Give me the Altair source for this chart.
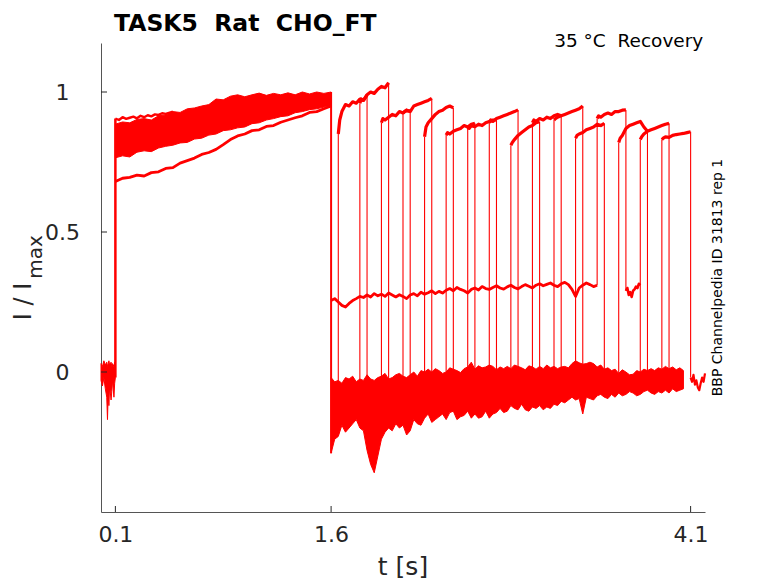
import altair as alt
import pandas as pd

RED = "#ff0000"
FONT = "DejaVu Sans"
AX = "#262626"
NB = "\u00a0"


def grid(start, stop, step):
    n = int(round((stop - start) / step)) + 1
    return [round(start + i * step, 4) for i in range(n)]


# ---------------- data ----------------
# baseline before the first pulse (noise envelope)
PRE_T = [0.0, 0.01, 0.02, 0.03, 0.04, 0.045, 0.05, 0.055, 0.06, 0.07, 0.075, 0.08, 0.09, 0.095, 0.1]
PRE_HI = [0.03, 0.02, 0.04, 0.025, 0.035, 0.02, 0.03, 0.04, 0.025, 0.035, 0.02, 0.03, 0.02, 0.035, 0.03]
PRE_LO = [-0.03, -0.05, -0.02, -0.06, -0.09, -0.17, -0.08, -0.12, -0.05, -0.10, -0.07, -0.03, -0.09, -0.04, -0.02]

# first pulse bundle (0.1 .. 1.6 s, step 0.05)
P1_T = grid(0.10, 1.60, 0.05)
P1_HI = [0.885, 0.893, 0.89, 0.902, 0.905, 0.9, 0.915, 0.918, 0.93, 0.927,
         0.94, 0.943, 0.95, 0.955, 0.975, 0.972, 0.985, 0.99, 0.983, 0.99,
         0.996, 0.988, 0.995, 0.99, 0.997, 0.99, 1.0, 0.993, 1.0, 0.995, 1.0]
P1_LO = [0.765, 0.772, 0.768, 0.785, 0.79, 0.787, 0.80, 0.806, 0.81, 0.818,
         0.82, 0.832, 0.835, 0.846, 0.85, 0.862, 0.865, 0.872, 0.875, 0.887,
         0.89, 0.9, 0.905, 0.912, 0.915, 0.926, 0.93, 0.937, 0.94, 0.946, 0.95]
LOWER_TRACE = [0.68, 0.692, 0.695, 0.703, 0.70, 0.712, 0.715, 0.727, 0.73, 0.746,
               0.755, 0.764, 0.777, 0.784, 0.795, 0.812, 0.83, 0.843, 0.85, 0.862,
               0.865, 0.877, 0.88, 0.892, 0.9, 0.908, 0.915, 0.927, 0.93, 0.94, 0.95]
TOP_T = [0.1, 0.125, 0.15, 0.175, 0.2, 0.225, 0.25, 0.275, 0.3, 0.325, 0.35, 0.375, 0.4, 0.425, 0.45, 0.5]
TOP_TRACE = [0.905, 0.9, 0.91, 0.904, 0.908, 0.912, 0.906, 0.915, 0.91, 0.917,
             0.913, 0.92, 0.918, 0.924, 0.922, 0.93]

# inactivated baseline after 1.6 s (noise envelope, step 0.025)
POST_T = grid(1.600, 4.050, 0.025)
POST_LO = [-0.29, -0.24, -0.23, -0.19, -0.215, -0.2, -0.185, -0.17, -0.2, -0.21,
           -0.28, -0.33, -0.36, -0.30, -0.24, -0.215, -0.2, -0.21, -0.185, -0.2,
           -0.19, -0.225, -0.21, -0.17, -0.185, -0.19, -0.165, -0.15, -0.18, -0.17,
           -0.16, -0.15, -0.17, -0.145, -0.14, -0.17, -0.16, -0.155, -0.14, -0.165,
           -0.15, -0.165, -0.16, -0.14, -0.165, -0.15, -0.145, -0.13, -0.145, -0.14,
           -0.12, -0.13, -0.135, -0.115, -0.135, -0.14, -0.125, -0.13, -0.12, -0.135,
           -0.125, -0.13, -0.115, -0.12, -0.105, -0.11, -0.1, -0.09, -0.1, -0.095,
           -0.15, -0.09, -0.095, -0.1, -0.085, -0.08, -0.09, -0.095, -0.08, -0.09,
           -0.075, -0.085, -0.08, -0.07, -0.075, -0.085, -0.08, -0.07, -0.065, -0.075,
           -0.08, -0.07, -0.075, -0.065, -0.075, -0.06, -0.07, -0.065, -0.06]
POST_HI = [-0.02, -0.035, -0.03, -0.04, -0.02, -0.025, -0.015, -0.035, -0.025, -0.03,
           -0.01, -0.025, -0.03, -0.02, -0.015, -0.005, -0.025, -0.02, -0.01, -0.005,
           -0.015, -0.02, -0.01, 0.0, -0.015, 0.005, 0.0, 0.01, 0.0, 0.012,
           0.005, -0.005, 0.0, 0.015, 0.01, 0.005, -0.002, 0.012, 0.018, 0.035,
           0.01, 0.022, 0.015, 0.018, 0.025, 0.02, 0.008, 0.018, 0.012, 0.02,
           0.012, 0.025, 0.02, 0.015, 0.008, 0.022, 0.018, 0.01, 0.02, 0.012,
           0.025, 0.015, 0.02, 0.012, 0.018, 0.02, 0.015, 0.03, 0.04, 0.033,
           0.028, 0.03, 0.035, 0.03, 0.018, 0.025, 0.01, 0.015, 0.005, 0.01,
           -0.005, 0.008, 0.0, -0.01, -0.008, 0.005, 0.0, 0.01, 0.005, 0.012,
           0.005, 0.015, 0.01, 0.02, 0.012, 0.018, 0.008, 0.015, 0.005]

# sweep with the elevated baseline (recovers at 3.45 s)
S12_T = grid(1.600, 3.450, 0.025)
S12_BASE = [0.255, 0.262, 0.25, 0.238, 0.232, 0.245, 0.255, 0.262, 0.27, 0.266,
            0.275, 0.268, 0.28, 0.272, 0.278, 0.27, 0.282, 0.275, 0.268, 0.276,
            0.27, 0.262, 0.275, 0.28, 0.272, 0.285, 0.278, 0.283, 0.29, 0.28,
            0.288, 0.282, 0.292, 0.298, 0.29, 0.302, 0.295, 0.29, 0.282, 0.295,
            0.3, 0.293, 0.305, 0.298, 0.295, 0.302, 0.308, 0.3, 0.296, 0.304,
            0.31, 0.302, 0.297, 0.305, 0.312, 0.306, 0.3, 0.31, 0.315, 0.308,
            0.313, 0.318, 0.31, 0.305, 0.315, 0.32, 0.312, 0.295, 0.27, 0.3,
            0.31, 0.318, 0.312, 0.305, 0.31]
S12_TAIL_T = grid(3.65, 3.75, 0.01)
S12_TAIL = [0.29, 0.3, 0.275, 0.285, 0.268, 0.29, 0.295, 0.305, 0.3, 0.315, 0.31]
S15_TAIL_T = grid(4.10, 4.20, 0.01)
S15_TAIL = [-0.02, -0.035, -0.01, -0.045, -0.03, -0.055, -0.065, -0.04, -0.02, -0.035, -0.005]

# recovery pulses
SWEEP_START = [1.65, 1.80, 1.95, 2.10, 2.25, 2.40, 2.55, 2.70, 2.85, 3.00, 3.15, 3.30, 3.45, 3.60, 3.75, 3.90]
SWEEP_END = [1.85, 2.00, 2.15, 2.30, 2.45, 2.60, 2.75, 2.90, 3.05, 3.20, 3.35, 3.50, 3.65, 3.80, 3.95, 4.10]
PLATEAU_OFFSETS = [0, 0.01, 0.025, 0.05, 0.075, 0.1, 0.125, 0.15, 0.175, 0.2]
PLATEAU = [
    [0.85, 0.90, 0.93, 0.955, 0.95, 0.965, 0.96, 0.975, 0.97, 0.99],
    [0.96, 0.975, 0.97, 0.99, 1.0, 0.995, 1.01, 1.02, 1.015, 1.033],
    [0.89, 0.905, 0.9, 0.91, 0.92, 0.915, 0.93, 0.925, 0.935, 0.93],
    [0.925, 0.93, 0.935, 0.93, 0.95, 0.955, 0.96, 0.965, 0.97, 0.977],
    [0.84, 0.875, 0.89, 0.905, 0.92, 0.93, 0.935, 0.945, 0.95, 0.943],
    [0.846, 0.855, 0.85, 0.86, 0.865, 0.87, 0.88, 0.875, 0.885, 0.888],
    [0.875, 0.87, 0.88, 0.876, 0.885, 0.88, 0.89, 0.895, 0.9, 0.9],
    [0.89, 0.9, 0.895, 0.905, 0.91, 0.915, 0.92, 0.925, 0.93, 0.936],
    [0.81, 0.82, 0.83, 0.845, 0.855, 0.865, 0.875, 0.88, 0.89, 0.894],
    [0.89, 0.9, 0.895, 0.905, 0.9, 0.91, 0.905, 0.915, 0.92, 0.915],
    [0.9, 0.905, 0.91, 0.915, 0.92, 0.925, 0.93, 0.935, 0.94, 0.95],
    [0.835, 0.845, 0.85, 0.855, 0.865, 0.87, 0.875, 0.885, 0.88, 0.888],
    [0.905, 0.915, 0.91, 0.92, 0.925, 0.92, 0.93, 0.93, 0.935, 0.936],
    [0.82, 0.835, 0.845, 0.87, 0.88, 0.885, 0.89, 0.895, 0.875, 0.86],
    [0.83, 0.84, 0.85, 0.86, 0.865, 0.87, 0.875, 0.88, 0.885, 0.888],
    [0.83, 0.835, 0.84, 0.838, 0.845, 0.848, 0.85, 0.852, 0.855, 0.858],
]
LOW_BEFORE = [-0.12, -0.1, -0.11, -0.09, -0.1, -0.08, -0.09, -0.07, -0.08, -0.06, -0.07, -0.05, 0.31, -0.04, -0.05, -0.04]
LOW_AFTER = [-0.1, -0.09, -0.1, -0.08, -0.08, -0.07, -0.08, -0.06, -0.07, -0.05, -0.06, -0.04, 0.29, -0.03, -0.04, -0.02]

X_TICKS = [0.1, 1.6, 4.1]
Y_TICKS = [0, 0.5, 1]

# ---------------- tables ----------------
bands = pd.concat([
    pd.DataFrame({"t": PRE_T, "y": PRE_LO, "y2": PRE_HI, "id": "pre"}),
    pd.DataFrame({"t": P1_T, "y": P1_LO, "y2": P1_HI, "id": "p1"}),
    pd.DataFrame({"t": POST_T, "y": POST_LO, "y2": POST_HI, "id": "post"}),
], ignore_index=True)

rows = []


def add_line(name, ts, ys, w):
    for i, (t, y) in enumerate(zip(ts, ys)):
        rows.append({"t": t, "y": y, "id": name, "o": i, "w": w})


add_line("top", TOP_T, TOP_TRACE, 2.4)
add_line("lower", P1_T, LOWER_TRACE, 2.8)
add_line("s12base", S12_T, S12_BASE, 2.8)
add_line("s12tail", S12_TAIL_T, S12_TAIL, 2.6)
add_line("s15tail", S15_TAIL_T, S15_TAIL, 2.2)
for k, (s, vals) in enumerate(zip(SWEEP_START, PLATEAU)):
    add_line(f"plat{k}", [round(s + o, 4) for o in PLATEAU_OFFSETS], vals, 3.2)
lines = pd.DataFrame(rows)

rule_rows = [
    {"t": 0.1, "y": -0.02, "y2": 0.905, "w": 2.5},
    {"t": 1.6, "y": -0.29, "y2": 1.0, "w": 2.0},
]
for k in range(len(SWEEP_START)):
    rule_rows.append({"t": SWEEP_START[k], "y": LOW_BEFORE[k], "y2": PLATEAU[k][0], "w": 1.1})
    rule_rows.append({"t": SWEEP_END[k], "y": LOW_AFTER[k], "y2": PLATEAU[k][-1], "w": 1.1})
rules = pd.DataFrame(rule_rows)

# ---------------- encodings ----------------
X = alt.X("t:Q",
          scale=alt.Scale(domain=[0, 4.2], nice=False, zero=False),
          axis=alt.Axis(values=X_TICKS, format=".1f", title=None, ticks=False, tickSize=0,
                        labelPadding=12, labelFontSize=22, labelColor=AX, labelFont=FONT,
                        domainColor="#555555", domainWidth=1, grid=False, labelFlush=False))
Y = alt.Y("y:Q",
          scale=alt.Scale(domain=[-0.5, 1.175], nice=False, zero=False),
          axis=alt.Axis(values=Y_TICKS, format="~g", title=None, ticks=False, tickSize=0,
                        labelPadding=39, labelAlign="center", labelBaseline="middle",
                        labelFontSize=22, labelColor=AX, labelFont=FONT,
                        domainColor="#555555", domainWidth=1, grid=False))

band_layer = alt.Chart(bands).mark_area(color=RED, stroke=RED, strokeWidth=1, opacity=1).encode(
    x=X, y=Y, y2="y2:Q", detail="id:N")

line_layer = alt.Chart(lines).mark_line(color=RED, strokeJoin="round").encode(
    x=X, y=Y, detail="id:N", order="o:Q",
    strokeWidth=alt.StrokeWidth("w:Q", scale=None))

rule_layer = alt.Chart(rules).mark_rule(color=RED).encode(
    x=X, y=Y, y2="y2:Q", strokeWidth=alt.StrokeWidth("w:Q", scale=None))

xt = alt.Chart(pd.DataFrame({"t": X_TICKS})).mark_rule(color=AX, strokeWidth=1).encode(
    x=X, y=alt.value(469), y2=alt.value(463))
yt = alt.Chart(pd.DataFrame({"y": Y_TICKS})).mark_rule(color=AX, strokeWidth=1).encode(
    y=Y, x=alt.value(0), x2=alt.value(6))


def txt(text, x, y, size, **kw):
    return alt.Chart(pd.DataFrame({"s": [text]})).mark_text(
        font=FONT, fontSize=size, **kw).encode(
        text="s:N", x=alt.value(x), y=alt.value(y))


title = txt("TASK5" + NB + NB + "Rat" + NB + NB + "CHO_FT", 13, -12.5, 23.5, fontWeight="bold",
            align="left", baseline="alphabetic", color="#000000")
sub = txt("35 °C" + NB + NB + "Recovery", 602.3, 3.7, 18.5, align="right",
          baseline="alphabetic", color="#000000")
side = txt("BBP Channelpedia ID 31813 rep 1", 620.7, 234.5, 14, angle=270, align="center",
           baseline="alphabetic", color="#000000")
xlab = txt("t [s]", 302, 532, 25, align="center", baseline="alphabetic", color=AX)
ylab = txt("I / I", -70, 258.5, 24, angle=270, align="center", baseline="alphabetic", color=AX)
ysub = txt("max", -59.5, 214, 20, angle=270, align="center", baseline="alphabetic", color=AX)

chart = alt.layer(
    band_layer, line_layer, rule_layer, xt, yt, title, sub, side, xlab, ylab, ysub
).properties(
    width=604, height=469,
    autosize=alt.AutoSizeParams(type="none"),
    padding={"left": 93, "top": 35, "right": 65, "bottom": 75},
).configure_view(stroke=None)

chart.save("out.html", embed_options={"renderer": "svg", "actions": False})
